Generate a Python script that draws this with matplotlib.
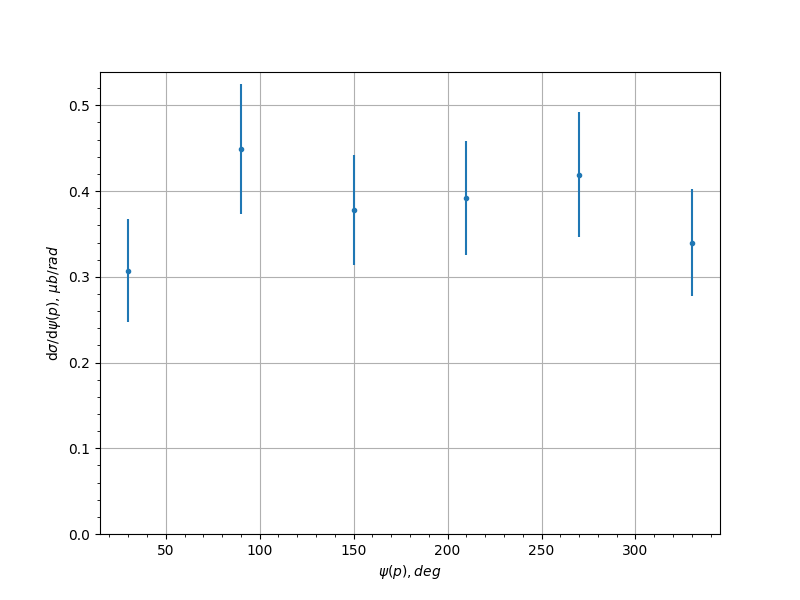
import matplotlib
matplotlib.use("Agg")
import matplotlib.pyplot as plt

# angle bins (deg), cross-section and its uncertainty
psi = [30, 90, 150, 210, 270, 330]
dsigma = [0.307, 0.449, 0.378, 0.392, 0.419, 0.340]
dsigma_err = [0.060, 0.076, 0.064, 0.066, 0.073, 0.062]

fig, ax = plt.subplots(figsize=(8, 6), dpi=100)
ax.errorbar(psi, dsigma, yerr=dsigma_err, fmt=".")
ax.set_ylim(bottom=0)
ax.minorticks_on()
ax.grid(True)
ax.set_xlabel(r"$\psi(p), deg$")
ax.set_ylabel(r"d$\sigma$/d$\psi(p)$, $\mu b/rad$")

fig.savefig("out.png")
